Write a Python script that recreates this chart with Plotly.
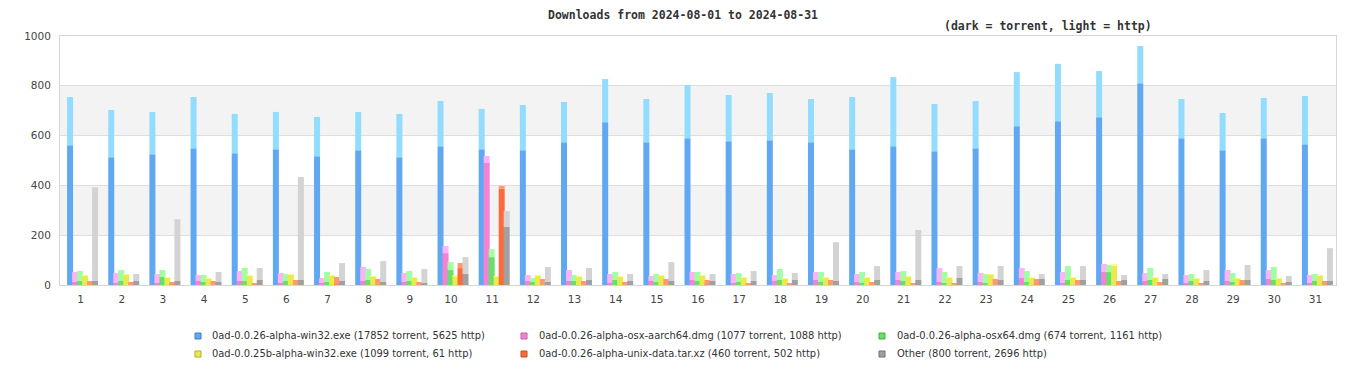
import plotly.graph_objects as go

days = list(range(1, 32))
tick_labels = [str(d) for d in days]

series_names = [
    "0ad-0.0.26-alpha-win32.exe",
    "0ad-0.0.26-alpha-osx-aarch64.dmg",
    "0ad-0.0.26-alpha-osx64.dmg",
    "0ad-0.0.25b-alpha-win32.exe",
    "0ad-0.0.26-alpha-unix-data.tar.xz",
    "Other",
]
legend_labels = [
    "0ad-0.0.26-alpha-win32.exe (17852 torrent, 5625 http)",
    "0ad-0.0.26-alpha-osx-aarch64.dmg (1077 torrent, 1088 http)",
    "0ad-0.0.26-alpha-osx64.dmg (674 torrent, 1161 http)",
    "0ad-0.0.25b-alpha-win32.exe (1099 torrent, 61 http)",
    "0ad-0.0.26-alpha-unix-data.tar.xz (460 torrent, 502 http)",
    "Other (800 torrent, 2696 http)",
]

win32_torrent = [561, 513, 525, 549, 529, 545, 517, 541, 513, 557, 545, 541, 573, 654, 573, 589,
                 577, 581, 573, 545, 557, 537, 549, 638, 658, 674, 810, 589, 541, 589, 565]
win32_http = [194, 190, 170, 206, 158, 150, 158, 154, 174, 182, 162, 182, 162, 173, 174, 214,
              186, 190, 174, 210, 278, 190, 190, 217, 230, 185, 150, 158, 150, 162, 194]

aarch64_torrent = [12, 8, 8, 16, 16, 8, 8, 16, 12, 128, 490, 16, 16, 8, 16, 20,
                   8, 16, 20, 12, 20, 12, 12, 28, 8, 52, 16, 8, 16, 24, 8]
aarch64_http = [40, 40, 36, 24, 40, 40, 20, 56, 36, 28, 28, 24, 44, 36, 20, 32,
                36, 24, 32, 32, 32, 56, 36, 40, 44, 32, 32, 32, 44, 36, 32]

osx64_torrent = [16, 16, 32, 12, 16, 16, 12, 20, 16, 60, 112, 12, 16, 20, 12, 16,
                 12, 20, 12, 8, 16, 8, 8, 12, 20, 52, 20, 16, 12, 20, 16]
osx64_http = [40, 44, 28, 28, 52, 28, 40, 44, 40, 32, 32, 16, 24, 32, 32, 36,
              36, 44, 40, 44, 40, 44, 36, 44, 56, 28, 48, 28, 36, 52, 28]

win32_025b_torrent = [37, 41, 30, 27, 37, 43, 38, 34, 30, 36, 34, 39, 33, 34, 37, 38,
                      30, 26, 30, 31, 33, 31, 42, 30, 30, 80, 30, 27, 26, 27, 37]
win32_025b_http = [2, 3, 2, 1, 3, 1, 2, 2, 2, 4, 2, 1, 3, 2, 3, 2,
                   2, 2, 2, 1, 3, 1, 2, 2, 2, 4, 2, 1, 2, 1, 3]

unixdata_torrent = [0, 0, 1, 0, 0, 0, 2, 0, 0, 68, 386, 0, 0, 0, 0, 1,
                    0, 0, 0, 0, 0, 0, 0, 1, 0, 0, 0, 0, 1, 0, 0]
unixdata_http = [16, 12, 11, 16, 8, 20, 30, 24, 12, 20, 12, 24, 16, 12, 24, 19,
                 8, 8, 20, 12, 8, 8, 24, 23, 20, 16, 12, 8, 19, 8, 16]

other_torrent = [16, 16, 16, 12, 20, 20, 16, 12, 8, 44, 233, 12, 20, 16, 16, 16,
                 16, 20, 16, 20, 20, 28, 20, 24, 20, 20, 24, 16, 20, 12, 16]
other_http = [376, 28, 248, 40, 48, 414, 72, 84, 56, 68, 64, 60, 48, 28, 76, 28,
              40, 28, 156, 56, 201, 48, 56, 20, 56, 20, 20, 44, 60, 24, 132]

torrent_data = [win32_torrent, aarch64_torrent, osx64_torrent,
                win32_025b_torrent, unixdata_torrent, other_torrent]
http_data = [win32_http, aarch64_http, osx64_http,
             win32_025b_http, unixdata_http, other_http]

dark_colors = ["#61a8f2", "#f283d2", "#67df6a", "#e9e950", "#ff6a3c", "#a0a0a0"]
light_colors = ["#93dcfe", "#feb2fb", "#a2fea2", "#fcfc7e", "#ff9a70", "#d3d3d3"]
border_colors = ["#3f7fbf", "#bf5fa0", "#3faf3f", "#afaf2f", "#c0502a", "#707070"]

# page geometry (pixels); the page body adds an 8px offset to the figure
OFF = 8
W, H = 1366 - OFF, 380 - OFF
PLOT_L, PLOT_R, PLOT_T, PLOT_B = 60, 1336, 36, 285   # page pixel coordinates
ML = PLOT_L - OFF
MT = PLOT_T - OFF
MR = W - (PLOT_R - OFF)
MB = H - (PLOT_B - OFF)
PW = PLOT_R - PLOT_L
PH = PLOT_B - PLOT_T
unit_px = PW / 31.0
bar_w_px = 6
step_px = 5
first_off_px = -13.5

fig = go.Figure()
for i in range(6):
    off = (first_off_px + i * step_px) / unit_px
    wid = bar_w_px / unit_px
    fig.add_trace(go.Bar(
        x=days, y=torrent_data[i], name=series_names[i] + " (torrent)",
        marker=dict(color=dark_colors[i], line=dict(width=0)),
        offset=off, width=wid, showlegend=False,
    ))
    fig.add_trace(go.Bar(
        x=days, y=http_data[i], base=torrent_data[i],
        name=series_names[i] + " (http)",
        marker=dict(color=light_colors[i], line=dict(width=0)),
        offset=off, width=wid, showlegend=False,
    ))

shapes = []
for y0, y1 in [(200, 400), (600, 800)]:
    shapes.append(dict(type="rect", xref="paper", yref="y", x0=0, x1=1, y0=y0, y1=y1,
                       fillcolor="#f3f3f3", line=dict(width=0), layer="below"))


def px_x(px):
    return (px - PLOT_L) / PW


def px_y(py):
    return (PLOT_B - py) / PH


annotations = []
col_sw = [198, 524, 882]
col_tx = [210, 537, 895]
row_y = [335, 353]
for i, lab in enumerate(legend_labels):
    r, c = divmod(i, 3)
    cx, cy = col_sw[c], row_y[r] + 1
    shapes.append(dict(type="rect", xref="paper", yref="paper",
                       x0=px_x(cx - 3), x1=px_x(cx + 3), y0=px_y(cy + 3), y1=px_y(cy - 3),
                       fillcolor=dark_colors[i], line=dict(color=border_colors[i], width=1)))
    annotations.append(dict(text=lab, xref="paper", yref="paper",
                            x=px_x(col_tx[c]), y=px_y(row_y[r]), xanchor="left", yanchor="middle",
                            showarrow=False,
                            font=dict(family="DejaVu Sans Condensed, DejaVu Sans", size=11, color="#333333")))

annotations.append(dict(text="(dark = torrent, light = http)", xref="paper", yref="paper",
                        x=px_x(1048), y=px_y(26), xanchor="center", yanchor="middle", showarrow=False,
                        font=dict(family="DejaVu Sans Mono", size=11.5, color="#333333", weight="bold")))
annotations.append(dict(text="Downloads from 2024-08-01 to 2024-08-31", xref="paper", yref="paper",
                        x=px_x(683), y=px_y(15), xanchor="center", yanchor="middle", showarrow=False,
                        borderpad=0,
                        font=dict(family="DejaVu Sans Mono", size=11.5, color="#333333", weight="bold")))

fig.update_layout(
    width=W, height=H,
    margin=dict(l=ML, r=MR, t=MT, b=MB, pad=0),
    barmode="overlay",
    paper_bgcolor="white",
    plot_bgcolor="white",
    xaxis=dict(range=[0.5, 31.5], tickmode="array", tickvals=days, ticktext=tick_labels,
               showgrid=False, zeroline=False, showline=True, mirror=True, linecolor="#d6d6d6",
               linewidth=1, ticks="", ticklabelstandoff=4,
               tickfont=dict(family="DejaVu Sans", size=10.5, color="#444444")),
    yaxis=dict(range=[0, 1000], tickmode="array", tickvals=[0, 200, 400, 600, 800, 1000],
               showgrid=True, gridcolor="#dedede", gridwidth=1, zeroline=False,
               showline=True, mirror=True, linecolor="#d6d6d6", linewidth=1, ticks="",
               ticklabelstandoff=6,
               tickfont=dict(family="DejaVu Sans", size=10.5, color="#444444")),
    shapes=shapes,
    annotations=annotations,
    showlegend=False,
    hovermode="closest",
)

fig.write_html("out.html")
